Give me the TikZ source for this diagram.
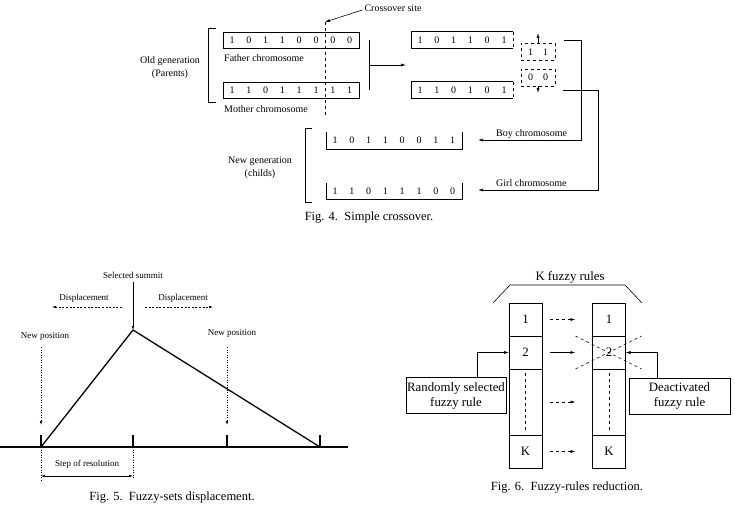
\documentclass[tikz,border=0pt]{standalone}
\usepackage{fontspec}
\setmainfont{Liberation Serif}
\usetikzlibrary{arrows.meta,positioning,calc}

\begin{document}
\begin{tikzpicture}[
  x=1pt, y=-1pt,
  flow/.style={line width=0.6pt},
  arr/.style={flow, -{Latex[length=5pt,width=3pt]}},
  arrS/.style={line width=0.5pt, -{Latex[length=4pt,width=2.5pt]}},
  txtA/.style={font=\fontsize{10}{13}\selectfont, inner sep=0pt},
  txtB/.style={font=\fontsize{9}{10}\selectfont, inner sep=0pt},
  txtC/.style={font=\fontsize{12.8}{15}\selectfont, inner sep=0pt},
  figcap/.style={font=\fontsize{12.5}{14}\selectfont, inner sep=0pt},
  chrom/.style={draw, line width=0.6pt, minimum height=16pt, inner sep=0pt},
  tail/.style={draw, dashed, line width=0.6pt, minimum width=34pt, minimum height=17pt,
    inner sep=0pt, font=\fontsize{10}{11}\selectfont},
  cell/.style={draw, line width=0.6pt, minimum width=33pt, minimum height=33pt,
    inner sep=0pt, outer sep=0pt, font=\fontsize{12.8}{14}\selectfont},
  note/.style={draw, line width=0.6pt, minimum height=36pt, align=center,
    inner sep=1pt, font=\fontsize{12.8}{15}\selectfont},
  base/.style={line width=1.3pt}
]
\useasboundingbox (0,0) rectangle (735,524);

\def\dx{16.8}

% ------------------------
% Fig. 4: simple crossover
% ------------------------
\node[txtA] (xsite) at (393,8) {Crossover site};
\coordinate (siteTop) at (325,22);
\coordinate (siteBot) at (325,115);
\draw[flow, dashed] (siteTop) -- (siteBot);
\draw[arr] ([xshift=-2pt,yshift=-2pt]xsite.west) -- (siteTop);

% parents
\node[chrom, minimum width=136pt] (father) at (291,40) {};
\node[chrom, minimum width=136pt] (mother) at (291,90) {};
\foreach \b [count=\i from 0] in {1,0,1,1,0,0,0,0}
  \node[txtA] (fb\i) at (232+\i*\dx,40) {\b};
\foreach \b [count=\i from 0] in {1,1,0,1,1,1,1,1}
  \node[txtA] (mb\i) at (232+\i*\dx,90) {\b};
\node[txtA, anchor=west] (fatherLbl) at (224,58) {Father chromosome};
\node[txtA, anchor=west] (motherLbl) at (224,109) {Mother chromosome};

\draw[flow] (216,28) -- (208,28) -- (208,102) -- (216,102);
\node[txtA, align=center] (oldGen) at (170,68) {Old generation\\(Parents)};

% mating
\coordinate (joinTop) at (369,40);
\coordinate (joinBot) at (369,90);
\coordinate (joinMid) at (369,65);
\coordinate (joinTip) at (406,65);
\draw[flow] (joinTop) -- (joinBot);
\draw[arr] (joinMid) -- (joinTip);

% heads of the children
\node[minimum width=102pt, minimum height=16pt, inner sep=0pt] (headA) at (462,40) {};
\node[minimum width=102pt, minimum height=16pt, inner sep=0pt] (headB) at (462,90) {};
\foreach \h in {headA,headB}{
  \draw[flow] (\h.north east) -- (\h.north west) -- (\h.south west) -- (\h.south east);
  \draw[flow, dashed] (\h.north east) -- (\h.south east);
}
\foreach \b [count=\i from 0] in {1,0,1,1,0,1}
  \node[txtA] (ha\i) at (420+\i*\dx,40) {\b};
\foreach \b [count=\i from 0] in {1,1,0,1,0,1}
  \node[txtA] (hb\i) at (420+\i*\dx,90) {\b};

% swapped tails
\node[tail] (tailA) at (538,52) {1\quad1};
\node[tail] (tailB) at (538,77.5) {0\quad0};
\coordinate (upTip) at (538,33);
\coordinate (downTip) at (538,93);
\draw[arr] (tailA.north) -- (upTip);
\draw[arr] (tailB.south) -- (downTip);

% children
\node[minimum width=136pt, minimum height=17pt, inner sep=0pt] (boy) at (394,140.5) {};
\node[minimum width=136pt, minimum height=16pt, inner sep=0pt] (girl) at (394,191) {};
\foreach \c in {boy,girl}
  \draw[flow] (\c.north west) -- (\c.south west) -- (\c.south east) -- (\c.north east);
\foreach \b [count=\i from 0] in {1,0,1,1,0,0,1,1}
  \node[txtA] (bb\i) at (335+\i*\dx,140.5) {\b};
\foreach \b [count=\i from 0] in {1,1,0,1,1,1,0,0}
  \node[txtA] (gb\i) at (335+\i*\dx,191) {\b};

\coordinate (boyStart) at (564,40);
\coordinate (boyEnd) at (478,140);
\coordinate (girlStart) at (563,90);
\coordinate (girlEnd) at (478,190);
\draw[arr] (boyStart) -- ++(17,0) |- (boyEnd);
\draw[arr] (girlStart) -- ++(35,0) |- (girlEnd);
\node[txtA, anchor=west] (boyLbl) at (496,134) {Boy chromosome};
\node[txtA, anchor=west] (girlLbl) at (496,183) {Girl chromosome};

\draw[flow] (312,128) -- (305,128) -- (305,202) -- (312,202);
\node[txtA, align=center] (newGen) at (260,168) {New generation\\(childs)};

\node[figcap] (cap4) at (369,218) {Fig. 4.\enspace Simple crossover.};

% ------------------------
% Fig. 5: fuzzy-sets displacement
% ------------------------
\coordinate (axL) at (0,447);
\coordinate (axR) at (348,447);
\draw[base] (axL) -- (axR);
\foreach \x [count=\k] in {41,133,227,320}{
  \coordinate (tick\k) at (\x,447);
  \draw[base] (tick\k) -- ++(0,-12);
}
\coordinate (summit) at (133,330);
\draw[base, line join=round] (tick1) -- (summit) -- (tick4);

\node[txtB] (selSum) at (133,275) {Selected summit};
\draw[arrS] ([yshift=-4pt]selSum.south) -- (summit);

\node[txtB] (dispL) at (84,298) {Displacement};
\node[txtB] (dispR) at (183,298) {Displacement};
\coordinate (dlStart) at (122,307);
\coordinate (dlTip) at (52,307);
\coordinate (drStart) at (145,307);
\coordinate (drTip) at (213,307);
\draw[arrS, dash pattern=on 2pt off 1.6pt] (dlStart) -- (dlTip);
\draw[arrS, dash pattern=on 2pt off 1.6pt] (drStart) -- (drTip);

\node[txtB] (newL) at (45,336) {New position};
\node[txtB] (newR) at (232,333) {New position};
\coordinate (newLTop) at (41,347);
\coordinate (newLTip) at (41,425);
\coordinate (newRTop) at (227,347);
\coordinate (newRTip) at (227,425);
\draw[arrS, dotted] (newLTop) -- (newLTip);
\draw[arrS, dotted] (newRTop) -- (newRTip);

\coordinate (stepL) at (41,481);
\coordinate (stepR) at (133,479);
\draw[line width=0.5pt, dotted] (tick1) -- (stepL);
\draw[line width=0.5pt, dotted] (tick2) -- (stepR);
\draw[line width=0.5pt, {Latex[length=4pt,width=2.5pt]}-{Latex[length=4pt,width=2.5pt]}]
  (41,476) -- (133,476);
\node[txtB] (stepLbl) at (87,464) {Step of resolution};

\node[figcap] (cap5) at (172,498) {Fig. 5.\enspace Fuzzy-sets displacement.};

% ------------------------
% Fig. 6: fuzzy-rules reduction
% ------------------------
\node[txtC] (kRules) at (570,277) {K fuzzy rules};
\draw[flow] (493,303) -- (510,285) -- (625,285) -- (642,303);

\node[cell] (L1) at (525.5,319.5) {1};
\node[cell, below=0pt of L1] (L2) {2};
\node[cell, below=0pt of L2, minimum height=66pt] (Ld) {};
\node[cell, below=0pt of Ld] (LK) {K};
\node[cell] (R1) at (609,319.5) {1};
\node[cell, below=0pt of R1] (R2) {2};
\node[cell, below=0pt of R2, minimum height=66pt] (Rd) {};
\node[cell, below=0pt of Rd] (RK) {K};
\draw[flow, dashed] ([yshift=-4pt]Ld.north) -- ([yshift=4pt]Ld.south);
\draw[flow, dashed] ([yshift=-4pt]Rd.north) -- ([yshift=4pt]Rd.south);

\foreach \r in {1,d,K}
  \draw[arr, dashed] ([xshift=8pt]L\r.east) -- ([xshift=-17pt]R\r.west);
\draw[arr] ([xshift=8pt]L2.east) -- ([xshift=-17pt]R2.west);

\draw[flow, dashed] ([xshift=-17pt]R2.north west) -- ([xshift=16pt]R2.south east);
\draw[flow, dashed] ([xshift=-17pt]R2.south west) -- ([xshift=16pt]R2.north east);

\node[note, minimum width=100pt] (randNote) at (456,395.5) {Randomly selected\\fuzzy rule};
\node[note, minimum width=101pt] (deadNote) at (679.5,396) {Deactivated\\fuzzy rule};
\draw[arr] ([xshift=21pt]randNote.north) |- (L2.west);
\draw[arr] ([xshift=-22.5pt]deadNote.north) |- (R2.east);

\node[figcap] (cap6) at (567,488) {Fig. 6.\enspace Fuzzy-rules reduction.};

\end{tikzpicture}
\end{document}
